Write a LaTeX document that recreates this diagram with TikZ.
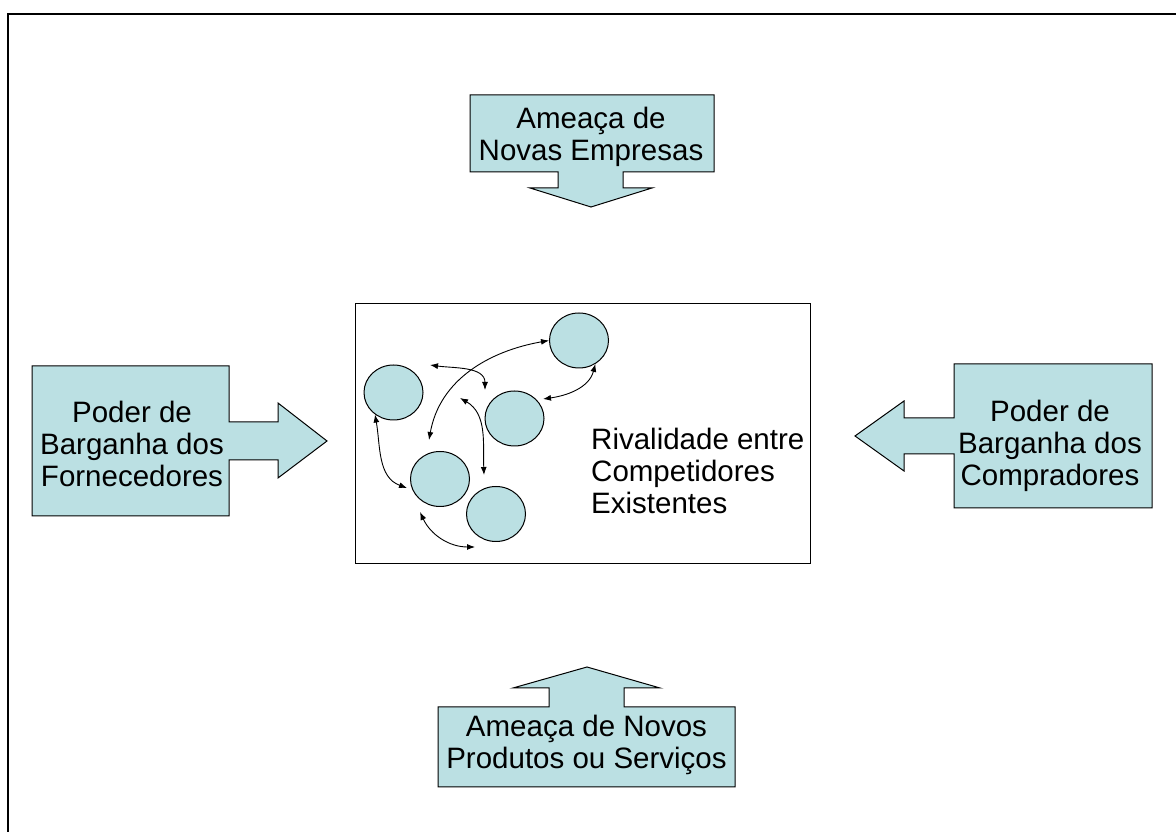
\documentclass[tikz,border=0pt]{standalone}
\usepackage{fontspec}
\setmainfont{Liberation Sans}
\usetikzlibrary{shapes.geometric,arrows.meta}
\definecolor{calloutblue}{RGB}{187,224,227}

\begin{document}
\begin{tikzpicture}[x=1pt,y=1pt,
  callout/.style={draw=black,fill=calloutblue,line width=1pt,line join=miter},
  forcetext/.style={align=center,inner sep=0pt,font=\fontsize{29.5}{32}\selectfont},
  comp/.style={ellipse,draw=black,fill=calloutblue,line width=1pt,minimum width=59pt,minimum height=55pt,inner sep=0pt},
  rival/.style={{Latex[length=8pt,width=6pt]}-{Latex[length=8pt,width=6pt]},line width=0.9pt}]
\useasboundingbox (0,0) rectangle (1176,832);
\draw [line width=2pt] (8,0) -- (8,818) -- (1176,818);
% entrantes
\draw [callout] (470,737) -- (714,737) -- (714,660) -- (623,660) -- (623,644) -- (652,644)
  -- (591,625) -- (530,644) -- (558,644) -- (558,660) -- (470,660) -- cycle;
\node (entrants) at (591,695) [forcetext] {Ameaça de\\Novas Empresas};
% fornecedores
\draw [callout] (32,466) -- (229,466) -- (229,410) -- (278,410) -- (278,429) -- (327,391)
  -- (278,354) -- (278,372) -- (229,372) -- (229,316) -- (32,316) -- cycle;
\node (suppliers) at (132,388) [forcetext] {Poder de\\Barganha dos\\Fornecedores};
% compradores
\draw [callout] (1152,468) -- (954,468) -- (954,414) -- (904,414) -- (904,431) -- (855,396)
  -- (904,361) -- (904,378) -- (954,378) -- (954,324) -- (1152,324) -- cycle;
\node (buyers) at (1050,386) [forcetext] {Poder de\\Barganha dos\\Compradores};
% substitutos
\draw [callout] (438,125) -- (549,125) -- (549,144) -- (513,144) -- (587,165) -- (660,144)
  -- (624,144) -- (624,125) -- (735,125) -- (735,45) -- (438,45) -- cycle;
\node (substitutes) at (586.5,87) [forcetext] {Ameaça de Novos\\Produtos ou Serviços};
% rivalidade
\node (arena) at (582.5,398) [draw,line width=1pt,minimum width=455pt,minimum height=260pt] {};
\node (rivtext) at (591,361.5) [forcetext,anchor=west,align=left] {Rivalidade entre\\Competidores\\Existentes};
\node (c1) at (579,491.5) [comp] {};
\node (c2) at (393.5,439.5) [comp] {};
\node (c3) at (514.5,413.5) [comp] {};
\node (c4) at (440,353) [comp] {};
\node (c5) at (496,318) [comp] {};
\coordinate (a1e) at (429,392);
\coordinate (a2s) at (430,467);
\coordinate (a2e) at (485,442);
\coordinate (a3s) at (460,434);
\coordinate (a3e) at (484,357);
\coordinate (a4s) at (543,433);
\coordinate (a5e) at (407,344);
\coordinate (a6s) at (420,320);
\coordinate (a6e) at (475,285);
\draw [rival] (c1.west) to[out=190,in=80] (a1e);
\draw [rival] (a2s) to[out=-8,in=90] (a2e);
\draw [rival] (a3s) to[out=-30,in=92] (a3e);
\draw [rival] (a4s) to[out=8,in=255] (c1.-55);
\draw [rival] (c2.-130) to[out=-80,in=160] (a5e);
\draw [rival] (a6s) to[out=-65,in=180] (a6e);
\end{tikzpicture}
\end{document}
